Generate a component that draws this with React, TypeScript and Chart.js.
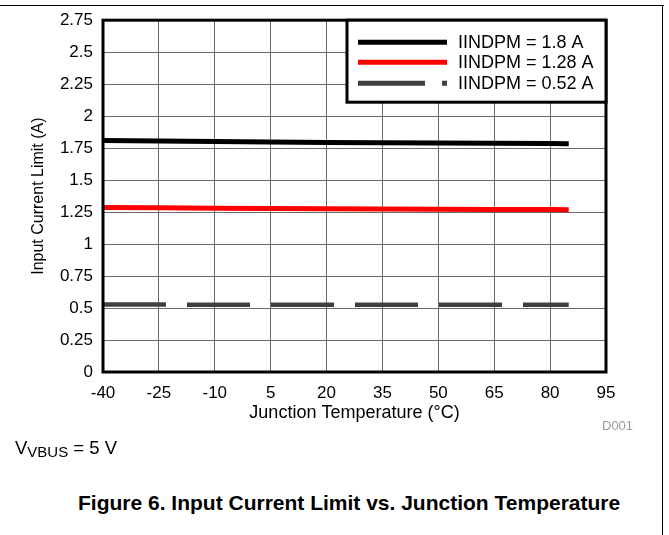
import React, { useEffect, useRef } from "react";
import { Chart, registerables } from "chart.js";

Chart.register(...registerables);

// ---- data ----
const temperatures = [-40, -25, -10, 5, 20, 35, 50, 65, 80, 85];
const limit1p8 = [1.81, 1.805, 1.801, 1.797, 1.794, 1.792, 1.79, 1.788, 1.786, 1.785];
const limit1p28 = [1.285, 1.283, 1.281, 1.279, 1.277, 1.275, 1.273, 1.271, 1.27, 1.269];
const limit0p52 = [0.527, 0.527, 0.526, 0.526, 0.526, 0.525, 0.525, 0.525, 0.525, 0.525];
const seriesNames = ["IINDPM = 1.8 A", "IINDPM = 1.28 A", "IINDPM = 0.52 A"];
const seriesColors = ["#000000", "#ff0000", "#404040"];
const xTickValues = [-40, -25, -10, 5, 20, 35, 50, 65, 80, 95];
const yTickValues = [0, 0.25, 0.5, 0.75, 1, 1.25, 1.5, 1.75, 2, 2.25, 2.5, 2.75];
const xTitle = "Junction Temperature (°C)";
const yTitle = "Input Current Limit (A)";
const captionText = "Figure 6. Input Current Limit vs. Junction Temperature";
const codeText = "D001";

const FONT = "'Liberation Sans', Arial, Helvetica, sans-serif";

const frameLegendPlugin = {
  id: "frameLegend",
  afterDatasetsDraw(chart: any) {
    const { ctx, chartArea: ca } = chart;
    ctx.save();
    ctx.strokeStyle = "#000";
    ctx.lineWidth = 3;
    ctx.strokeRect(ca.left, ca.top, ca.right - ca.left, ca.bottom - ca.top);

    const bw = 259;
    const bh = 82;
    const bx = ca.right - bw;
    const by = ca.top;
    ctx.fillStyle = "#fff";
    ctx.fillRect(bx, by, bw, bh);
    ctx.strokeRect(bx, by, bw, bh);

    const rows = [22, 42, 63];
    const dashes = [[], [], [67, 17]];
    chart.data.datasets.forEach((ds: any, i: number) => {
      const y = by + rows[i];
      ctx.beginPath();
      ctx.setLineDash(dashes[i]);
      ctx.lineCap = "butt";
      ctx.strokeStyle = ds.borderColor;
      ctx.lineWidth = 5;
      ctx.moveTo(bx + 11, y);
      ctx.lineTo(bx + 100, y);
      ctx.stroke();
      ctx.setLineDash([]);
      ctx.fillStyle = "#000";
      ctx.font = `18px ${FONT}`;
      ctx.textBaseline = "middle";
      ctx.textAlign = "left";
      ctx.fillText(ds.label, bx + 111, y + 1);
    });
    ctx.restore();
  },
};

export default function App() {
  const canvasRef = useRef<HTMLCanvasElement | null>(null);

  useEffect(() => {
    const canvas = canvasRef.current;
    if (!canvas) return;
    const series = [limit1p8, limit1p28, limit0p52];
    const chart = new Chart(canvas, {
      type: "line",
      data: {
        datasets: series.map((vals, i) => ({
          label: seriesNames[i],
          data: temperatures.map((t, j) => ({ x: t, y: vals[j] })),
          borderColor: seriesColors[i],
          backgroundColor: seriesColors[i],
          borderWidth: i === 2 ? 4.5 : 5,
          borderDash: i === 2 ? [63, 21] : [],
          borderCapStyle: "butt",
          pointRadius: 0,
          tension: 0,
          fill: false,
        })),
      },
      options: {
        responsive: false,
        animation: false,
        devicePixelRatio: 1,
        layout: { padding: { top: 18, right: 63, left: 0, bottom: 0 } },
        plugins: {
          legend: { display: false },
          tooltip: { enabled: false },
        },
        scales: {
          x: {
            type: "linear",
            min: -40,
            max: 95,
            afterBuildTicks: (s: any) => {
              s.ticks = xTickValues.map((v) => ({ value: v }));
            },
            afterFit: (s: any) => {
              s.height = 68;
            },
            grid: { color: "#6a6a6a", lineWidth: 1, drawTicks: false },
            border: { display: false },
            ticks: {
              color: "#000",
              font: { family: FONT, size: 17 },
              padding: 11,
              maxRotation: 0,
              autoSkip: false,
              callback: (v: any) => String(v),
            },
            title: {
              display: true,
              text: xTitle,
              color: "#000",
              font: { family: FONT, size: 18 },
              padding: { top: 0, bottom: 16 },
            },
          },
          y: {
            type: "linear",
            min: 0,
            max: 2.75,
            afterBuildTicks: (s: any) => {
              s.ticks = yTickValues.map((v) => ({ value: v }));
            },
            afterFit: (s: any) => {
              s.width = 103;
            },
            grid: { color: "#6a6a6a", lineWidth: 1, drawTicks: false },
            border: { display: false },
            ticks: {
              color: "#000",
              font: { family: FONT, size: 17 },
              padding: 10,
              autoSkip: false,
              callback: (v: any) => String(v),
            },
            title: {
              display: true,
              text: yTitle,
              color: "#000",
              font: { family: FONT, size: 16 },
              padding: { top: 29, bottom: 0 },
            },
          },
        },
      },
      plugins: [frameLegendPlugin],
    } as any);
    return () => chart.destroy();
  }, []);

  return (
    <div
      style={{
        position: "fixed",
        left: 0,
        top: 0,
        width: 669,
        height: 535,
        background: "#fff",
        overflow: "hidden",
        fontFamily: FONT,
        color: "#000",
      }}
    >
      <canvas ref={canvasRef} width={669} height={440} style={{ position: "absolute", left: 0, top: 0 }} />
      <div style={{ position: "absolute", left: 0, top: 5, width: 664, height: 0, borderTop: "1.5px solid #000" }} />
      <div style={{ position: "absolute", left: 662, top: 5, width: 0, height: 530, borderLeft: "1.5px solid #000" }} />
      <div
        style={{
          position: "absolute",
          left: 602,
          top: 419,
          fontSize: 13,
          lineHeight: 1,
          color: "#9a9a9a",
          whiteSpace: "nowrap",
        }}
      >
        {codeText}
      </div>
      <div
        style={{
          position: "absolute",
          left: 15,
          top: 439,
          fontSize: 18.5,
          lineHeight: 1,
          whiteSpace: "nowrap",
        }}
      >
        V<span style={{ fontSize: 15, position: "relative", top: 3 }}>VBUS</span> = 5 V
      </div>
      <div
        style={{
          position: "absolute",
          left: 78,
          top: 492,
          fontSize: 21,
          lineHeight: 1,
          fontWeight: "bold",
          whiteSpace: "nowrap",
        }}
      >
        {captionText}
      </div>
    </div>
  );
}
